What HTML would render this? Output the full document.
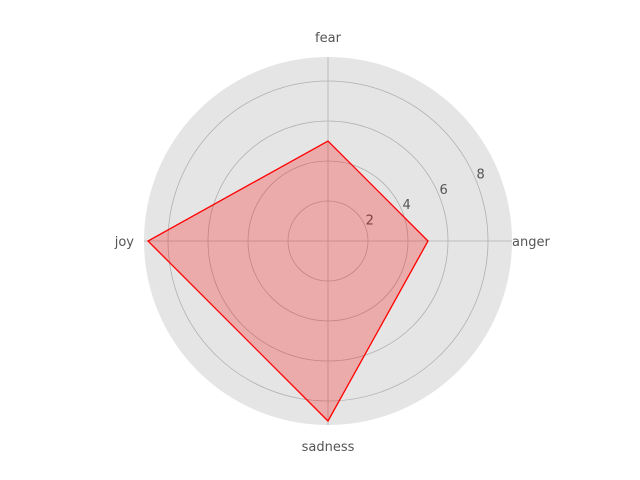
<!DOCTYPE html>
<html><head><meta charset="utf-8"><style>body{margin:0;background:#fff}svg{display:block;font-family:"DejaVu Sans","Liberation Sans",sans-serif}</style></head>
<body>
<svg id="chart" width="640" height="480"></svg>
<script>
const categories=["anger","fear","joy","sadness"];
const values=[5,5,9,9];
const tickValues=[2,4,6,8];
const tickLabels=["2","4","6","8"];
const NS="http://www.w3.org/2000/svg";
const svg=document.getElementById("chart");
const cx=328,cy=241,scale=20,outerR=184;
function rad(v){return v*scale;}
function ang(i){return i*2*Math.PI/categories.length;}
function pt(i,v){const a=ang(i);return [cx+rad(v)*Math.cos(a),cy-rad(v)*Math.sin(a)];}
function mk(t,attrs){const e=document.createElementNS(NS,t);for(const k in attrs)e.setAttribute(k,attrs[k]);svg.appendChild(e);return e;}
let bg=mk("circle",{cx:cx,cy:cy,r:outerR,fill:"#e5e5e5"});


tickValues.forEach((t,k)=>{
 const c=mk("circle",{cx:cx,cy:cy,r:rad(t),fill:"none",stroke:"#b0b0b0","stroke-width":0.8});
 
 
 const a=22.5*Math.PI/180,r=rad(t)+3;
 const tx=mk("text",{x:cx+r*Math.cos(a)+2,y:cy-r*Math.sin(a),"font-size":13,fill:"#555","text-anchor":"middle"});
 tx.textContent=tickLabels[k];
 
 
});
categories.forEach((c,i)=>{
 const a=ang(i);
 const l=mk("line",{x1:cx,y1:cy,x2:cx+outerR*Math.cos(a),y2:cy-outerR*Math.sin(a),stroke:"#b0b0b0","stroke-width":0.8});
 
 
});
const labelPos=[[512,246,"start"],[328,42,"middle"],[134,246,"end"],[328,451,"middle"]];
categories.forEach((c,i)=>{
 const p=labelPos[i];
 const t=mk("text",{x:p[0],y:p[1],"font-size":13,fill:"#555","text-anchor":p[2]});
 t.textContent=c;
 
 
});
const pts=values.map((v,i)=>pt(i,v).join(",")).join(" ");
const poly=mk("polygon",{points:pts,fill:"rgba(255,0,0,0.25)",stroke:"#ff0000","stroke-width":1.3});


</script>
</body></html>
